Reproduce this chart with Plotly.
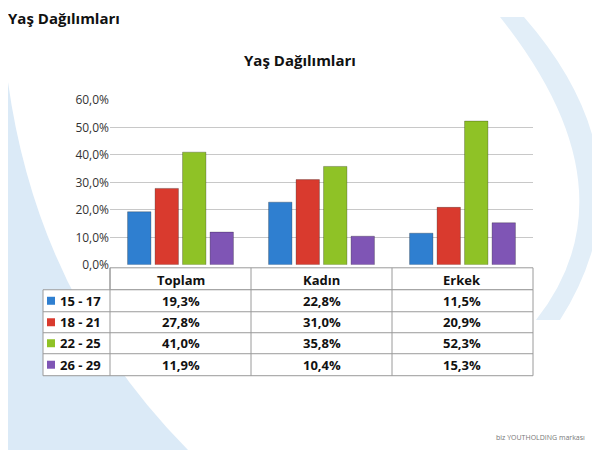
import plotly.graph_objects as go

categories = ["Toplam", "Kadın", "Erkek"]
groups = ["15 - 17", "18 - 21", "22 - 25", "26 - 29"]
values = [
    [19.3, 22.8, 11.5],
    [27.8, 31.0, 20.9],
    [41.0, 35.8, 52.3],
    [11.9, 10.4, 15.3],
]
colors = ["#2f7fd0", "#d93a2e", "#8fc226", "#7f55b5"]
tick_vals = [0, 10, 20, 30, 40, 50, 60]
tick_text = ["0,0%", "10,0%", "20,0%", "30,0%", "40,0%", "50,0%", "60,0%"]

W, H = 600, 450
# page offset compensation (body margin seen in the render)
px = lambda x: (x - 8) / W
py = lambda y: 1 - (y - 17) / (H * 0.963)

fig = go.Figure()
for g, vals, c in zip(groups, values, colors):
    fig.add_trace(go.Bar(x=categories, y=vals, name=g,
                         marker=dict(color=c, line=dict(color="rgba(0,0,0,0.25)", width=1))))

fig.update_layout(
    width=W, height=H, margin=dict(l=0, r=0, t=0, b=0),
    paper_bgcolor="white", plot_bgcolor="rgba(0,0,0,0)",
    showlegend=False, barmode="group", bargap=0.22, bargroupgap=0.15,
    font=dict(family="Open Sans, DejaVu Sans", color="#222"),
    xaxis=dict(domain=[px(110), px(533)], anchor="y", showticklabels=False,
               showline=False, zeroline=False),
    yaxis=dict(domain=[py(265), py(100)], range=[0, 60], tickvals=tick_vals,
               ticktext=tick_text, showgrid=True, gridcolor="#c8c8c8",
               tickfont=dict(size=12, color="#333"), zeroline=False, showline=False),
)

def note(text, x, y, size=13, xanchor="center", color="#111"):
    fig.add_annotation(text=text, x=px(x), y=py(y), xref="paper", yref="paper",
                       xanchor=xanchor, yanchor="middle", showarrow=False,
                       font=dict(size=size, color=color))

# background swooshes
fig.add_shape(type="path", xref="paper", yref="paper", layer="below",
              path="M 0 0 L 0 0.85 Q 0.05 0.35 0.3 0 Z", fillcolor="#dbeaf7", line_width=0)
fig.add_shape(type="path", xref="paper", yref="paper", layer="below",
              path="M 0.82 1 Q 1.05 0.6 0.88 0.3 L 0.92 0.3 Q 1.08 0.65 0.86 1 Z",
              fillcolor="#e2eef8", line_width=0)

note("<b>Yaş Dağılımları</b>", 6, 18, size=15, xanchor="left")
note("<b>Yaş Dağılımları</b>", 300, 60, size=15)

# data table
col_edges = [43, 110, 251, 392, 533]
row_edges = [268, 290, 312, 333, 354, 376]
line = dict(color="#9a9a9a", width=1)
fig.add_shape(type="rect", xref="paper", yref="paper", x0=px(110), x1=px(533),
              y0=py(268), y1=py(290), line=line, fillcolor="white")
fig.add_shape(type="rect", xref="paper", yref="paper", x0=px(43), x1=px(533),
              y0=py(290), y1=py(376), line=line, fillcolor="white")
for x in col_edges[1:-1]:
    fig.add_shape(type="line", xref="paper", yref="paper", x0=px(x), x1=px(x),
                  y0=py(268), y1=py(376), line=line)
for y in row_edges[2:-1]:
    fig.add_shape(type="line", xref="paper", yref="paper", x0=px(43), x1=px(533),
                  y0=py(y), y1=py(y), line=line)
for j, cat in enumerate(categories):
    cx = (col_edges[j + 1] + col_edges[j + 2]) / 2
    note("<b>" + cat + "</b>", cx, 280)
for i, g in enumerate(groups):
    cy = (row_edges[i + 1] + row_edges[i + 2]) / 2
    fig.add_shape(type="rect", xref="paper", yref="paper", x0=px(47), x1=px(55),
                  y0=py(cy + 4), y1=py(cy - 4), fillcolor=colors[i], line_width=0)
    note("<b>" + g + "</b>", 58, cy, xanchor="left")
    for j in range(3):
        cx = (col_edges[j + 1] + col_edges[j + 2]) / 2
        note("<b>" + f"{values[i][j]:.1f}".replace(".", ",") + "%</b>", cx, cy)

note("biz YOUTHOLDING markası", 540, 438, size=7, color="#777")

fig.write_html("out.html")
